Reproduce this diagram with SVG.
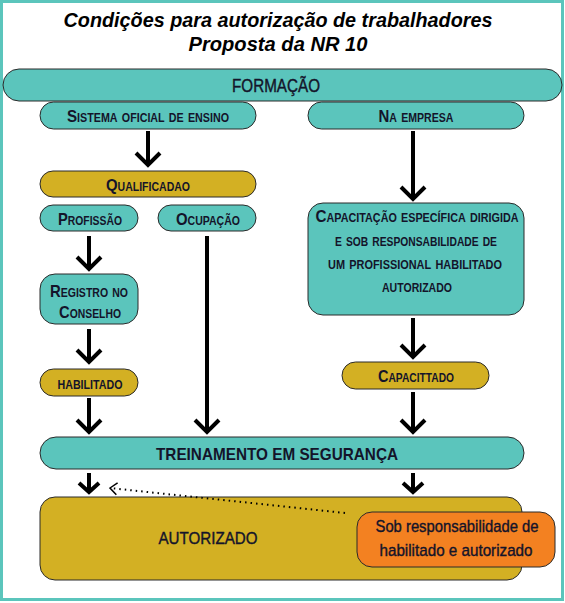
<svg xmlns="http://www.w3.org/2000/svg" width="565" height="603" viewBox="0 0 565 603">
<style>
.frame{fill:#fff;stroke:#5bc5bc;stroke-width:3}
.teal{fill:#5bc5bc;stroke:#2a2a2a;stroke-width:1}
.gold{fill:#d3b023;stroke:#2a2a2a;stroke-width:1}
.orange{fill:#f38121;stroke:#2a2a2a;stroke-width:1}
text{font-family:"Liberation Sans",Arial,sans-serif;fill:#14142a;text-anchor:middle}
.title{font-weight:bold;font-style:italic;font-size:19.5px;fill:#000}
.sc{font-weight:bold;font-size:17px;font-variant:small-caps}
.big{font-size:18px;stroke:#14142a;stroke-width:0.4}
.bold{font-weight:bold;font-size:17px}
.reg{font-size:17px;stroke:#14142a;stroke-width:0.4}
.arrow{stroke:#000;stroke-width:4;fill:none}
.dot{stroke:#000;stroke-width:2;fill:none;stroke-dasharray:1.5 4}
</style>
<defs>
<marker id="chev" markerUnits="userSpaceOnUse" orient="auto" refX="0" refY="0" markerWidth="30" markerHeight="30" viewBox="-20 -15 25 30" overflow="visible">
<path d="M-12,-12 L0,0 L-12,12" stroke="#000" stroke-width="4" fill="none"/>
</marker>
<marker id="chevs" markerUnits="userSpaceOnUse" orient="auto" refX="0" refY="0" markerWidth="30" markerHeight="30" viewBox="-20 -15 25 30" overflow="visible">
<path d="M-9,-10 L0,0 L-9,10" stroke="#000" stroke-width="4" fill="none"/>
</marker>
<marker id="open" markerUnits="userSpaceOnUse" orient="auto" refX="0" refY="0" markerWidth="20" markerHeight="20" viewBox="-10 -10 20 20" overflow="visible">
<path d="M-7,-6 L0,0 L-7,6" stroke="#000" stroke-width="1.5" fill="none"/>
</marker>
</defs>
<rect class="frame" x="1.5" y="1.5" width="561" height="598"/>
<g id="title">
<text class="title" x="278" y="27" textLength="429" lengthAdjust="spacingAndGlyphs">Condições para autorização de trabalhadores</text>
<text class="title" x="278" y="51" textLength="179" lengthAdjust="spacingAndGlyphs">Proposta da NR 10</text>
</g>
<g id="formacao"><rect class="teal" x="3" y="69" width="559" height="32" rx="16"/><text class="big" x="276" y="92" textLength="88" lengthAdjust="spacingAndGlyphs">FORMAÇÃO</text></g>
<g id="sistema"><rect class="teal" x="40" y="102" width="216" height="27" rx="13.5"/><text class="sc" x="148" y="122" textLength="162" lengthAdjust="spacingAndGlyphs">Sistema oficial de ensino</text></g>
<g id="empresa"><rect class="teal" x="308" y="102" width="216" height="27" rx="13.5"/><text class="sc" x="416" y="122" textLength="75" lengthAdjust="spacingAndGlyphs">Na empresa</text></g>
<g id="qualificado"><rect class="gold" x="40" y="171" width="216" height="26" rx="13"/><text class="sc" x="148" y="191" textLength="84" lengthAdjust="spacingAndGlyphs">Qualificadao</text></g>
<g id="profissao"><rect class="teal" x="40" y="205" width="98" height="26" rx="13"/><text class="sc" x="90" y="225" textLength="64" lengthAdjust="spacingAndGlyphs">Profissão</text></g>
<g id="ocupacao"><rect class="teal" x="158" y="205" width="98" height="26" rx="13"/><text class="sc" x="208" y="225" textLength="64" lengthAdjust="spacingAndGlyphs">Ocupação</text></g>
<g id="registro"><rect class="teal" x="40" y="274" width="98" height="50" rx="15"/><text class="sc" x="89" y="297" textLength="78" lengthAdjust="spacingAndGlyphs">Registro no</text><text class="sc" x="90" y="318" textLength="62" lengthAdjust="spacingAndGlyphs">Conselho</text></g>
<g id="habilitado"><rect class="gold" x="40" y="369" width="98" height="27" rx="13.5"/><text class="sc" x="90" y="389" textLength="65" lengthAdjust="spacingAndGlyphs">habilitado</text></g>
<g id="capacitacao"><rect class="teal" x="308" y="203" width="216" height="112" rx="15"/>
<text class="sc" x="417" y="222" textLength="203" lengthAdjust="spacingAndGlyphs">Capacitação específica dirigida</text>
<text class="sc" x="416" y="246" textLength="162" lengthAdjust="spacingAndGlyphs">e sob responsabilidade de</text>
<text class="sc" x="415" y="269" textLength="174" lengthAdjust="spacingAndGlyphs">um profissional habilitado</text>
<text class="sc" x="417" y="292" textLength="70" lengthAdjust="spacingAndGlyphs">autorizado</text></g>
<g id="capacitado"><rect class="gold" x="342" y="362" width="147" height="27" rx="13.5"/><text class="sc" x="416" y="382" textLength="76" lengthAdjust="spacingAndGlyphs">Capacittado</text></g>
<g id="treinamento"><rect class="teal" x="40" y="437" width="484" height="32" rx="16"/><text class="bold" x="277" y="460" textLength="242" lengthAdjust="spacingAndGlyphs">TREINAMENTO EM SEGURANÇA</text></g>
<g id="autorizado"><rect class="gold" x="40" y="497" width="482" height="83" rx="15"/><text class="reg" x="208" y="544" textLength="99" lengthAdjust="spacingAndGlyphs">AUTORIZADO</text></g>
<g id="responsabilidade"><rect class="orange" x="357" y="512" width="198" height="55" rx="15"/><text class="reg" x="457" y="532" textLength="163" lengthAdjust="spacingAndGlyphs">Sob responsabilidade de</text><text class="reg" x="456" y="556" textLength="153" lengthAdjust="spacingAndGlyphs">habilitado e autorizado</text></g>
<g id="connectors">
<line class="arrow" x1="148" y1="131" x2="148" y2="165" marker-end="url(#chev)"/>
<line class="arrow" x1="413" y1="131" x2="413" y2="199" marker-end="url(#chev)"/>
<line class="arrow" x1="89" y1="236" x2="89" y2="269" marker-end="url(#chev)"/>
<line class="arrow" x1="207" y1="236" x2="207" y2="432" marker-end="url(#chev)"/>
<line class="arrow" x1="89" y1="329" x2="89" y2="362" marker-end="url(#chev)"/>
<line class="arrow" x1="89" y1="398" x2="89" y2="432" marker-end="url(#chev)"/>
<line class="arrow" x1="413" y1="318" x2="413" y2="357" marker-end="url(#chev)"/>
<line class="arrow" x1="413" y1="392" x2="413" y2="432" marker-end="url(#chev)"/>
<line class="arrow" x1="89" y1="473" x2="89" y2="492" marker-end="url(#chevs)"/>
<line class="arrow" x1="413" y1="473" x2="413" y2="492" marker-end="url(#chevs)"/>
<line class="dot" x1="345" y1="513" x2="110" y2="488" marker-end="url(#open)"/>
</g>
</svg>
